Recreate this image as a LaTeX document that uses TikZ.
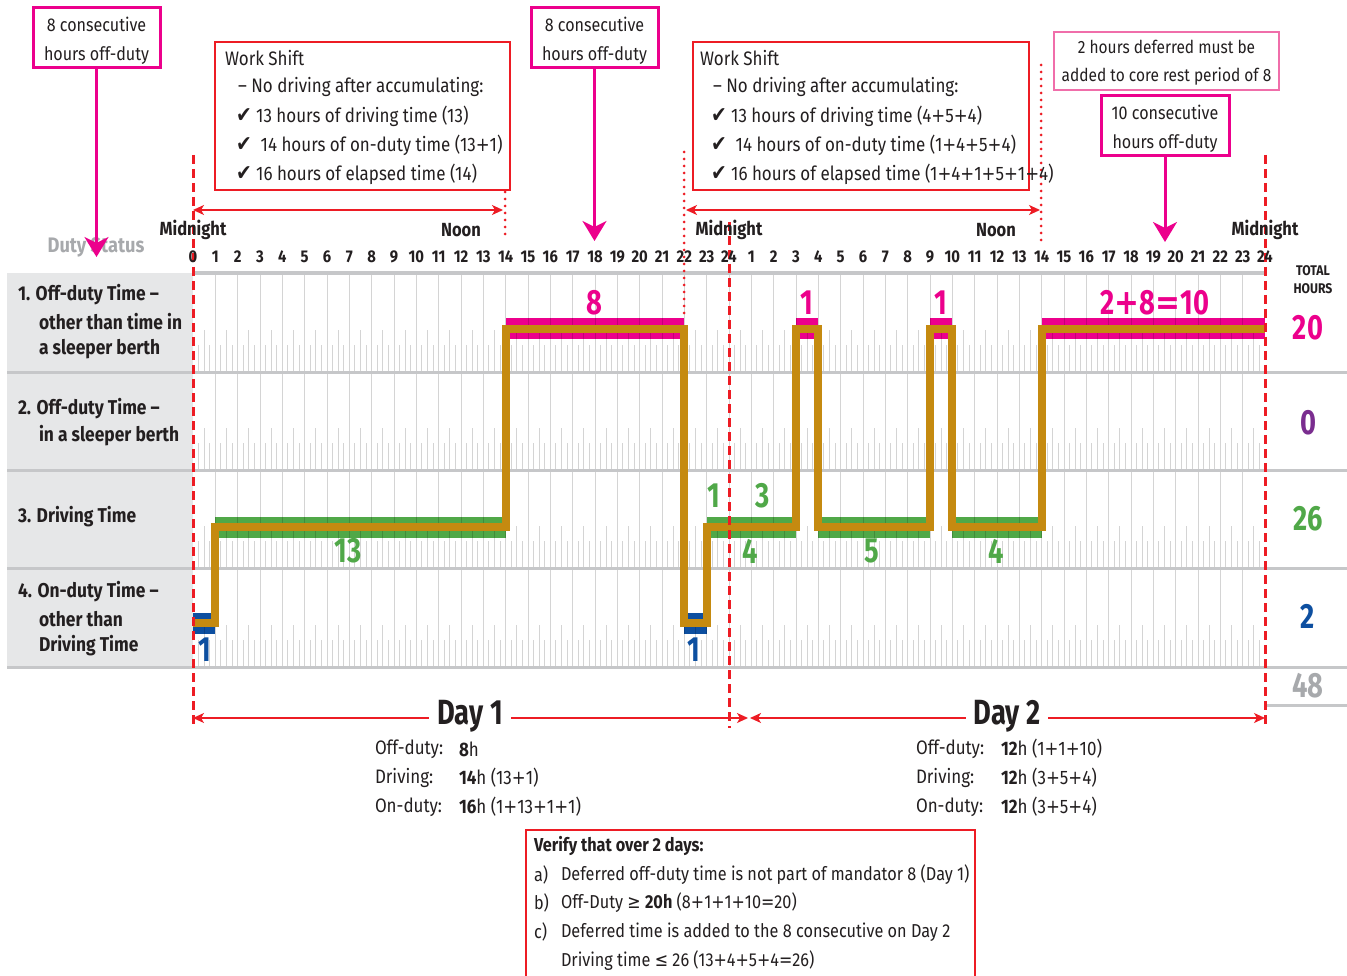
\documentclass[tikz,border=0pt]{standalone}
\usepackage{fontspec}
\setmainfont{Fira Sans}[FakeStretch=0.87]
\newfontfamily\narrowf{Fira Sans}[FakeStretch=0.78]
\newfontfamily\djv{DejaVu Sans}[FakeStretch=0.85]
\usetikzlibrary{arrows.meta}
\definecolor{ink}{HTML}{231F20}
\definecolor{redc}{HTML}{ED1C24}
\definecolor{pinkc}{HTML}{EC008C}
\definecolor{lpink}{HTML}{F06EAA}
\definecolor{greenc}{HTML}{50A848}
\definecolor{bluec}{HTML}{0D4FA0}
\definecolor{goldc}{HTML}{C58A10}
\definecolor{purplec}{HTML}{7A2D8F}
\definecolor{grayt}{HTML}{A7A9AC}
\definecolor{panel}{HTML}{E6E7E8}
\definecolor{rulec}{HTML}{C6C7C9}
\newcommand\hx[1]{193+22.33333*(#1)}
\newcommand\ck{{\djv\fontsize{22}{22}\selectfont ✔}}
\newcommand\pl{{\djv +}}
\newcommand\eq{{\djv =}}
\begin{document}
\begin{tikzpicture}[x=1pt,y=-1pt,
 every node/.style={inner sep=0pt,outer sep=0pt,text=ink},
 hr/.style={font=\bfseries\fontsize{17}{17}\selectfont},
 mid/.style={font=\bfseries\fontsize{19}{19}\selectfont},
 lbl/.style={anchor=west,font=\bfseries\fontsize{20}{20}\selectfont},
 ws/.style={anchor=west,font=\fontsize{19.5}{19.5}\selectfont},
 big/.style={font=\narrowf\bfseries\fontsize{35}{35}\selectfont},
 bt/.style={anchor=west,font=\fontsize{19.5}{19.5}\selectfont},
 vt/.style={anchor=west,font=\fontsize{18.7}{18.7}\selectfont},
 dayt/.style={fill=white,inner xsep=8pt,inner ysep=2pt,font=\narrowf\bfseries\fontsize{35}{35}\selectfont},
 cbox/.style={draw=pinkc,line width=3pt},
 ctext/.style={align=center,font=\fontsize{18.5}{29}\selectfont},
 wsbox/.style={draw=redc,line width=1.2pt,anchor=north west},
 parr/.style={draw=pinkc,line width=3pt,-{Stealth[length=20pt,width=24pt,inset=6pt]}},
 rarr/.style={draw=redc,line width=1.5pt,{Stealth[length=11pt,width=10pt,inset=3pt]}-{Stealth[length=11pt,width=10pt,inset=3pt]}},
 rdash/.style={draw=redc,line width=3pt,dash pattern=on 9pt off 5pt},
 rdot/.style={draw=redc,line width=3pt,line cap=round,dash pattern=on 0pt off 7pt},
 goldl/.style={draw=goldc,line width=8pt,line join=miter},
 gridl/.style={draw=black,opacity=0.17,line width=1pt},
 rowrule/.style={draw=rulec,line width=3pt}
]
\useasboundingbox (0,0) rectangle (1347,976);
\fill[white] (0,0) rectangle (1347,976);

% left panel
\fill[panel] (7,273) rectangle (193,667);

% bands
\fill[pinkc] ({\hx{14}},318.5) rectangle ({\hx{22}},339.5);
\fill[pinkc] ({\hx{27}},318.5) rectangle ({\hx{28}},339.5);
\fill[pinkc] ({\hx{33}},318.5) rectangle ({\hx{34}},339.5);
\fill[pinkc] ({\hx{38}},318.5) rectangle ({\hx{48}},339.5);
\fill[greenc] ({\hx{1}},516.5) rectangle ({\hx{14}},537.5);
\fill[greenc] ({\hx{23}},516.5) rectangle ({\hx{27}},537.5);
\fill[greenc] ({\hx{28}},516.5) rectangle ({\hx{33}},537.5);
\fill[greenc] ({\hx{34}},516.5) rectangle ({\hx{38}},537.5);
\fill[bluec] ({\hx{0}},612.5) rectangle ({\hx{1}},633.5);
\fill[bluec] ({\hx{22}},612.5) rectangle ({\hx{23}},633.5);

% grid
\foreach \h in {1,...,47} \draw[gridl] ({\hx{\h}},273) -- ({\hx{\h}},667);
\foreach \r in {372,470,568,667} {
  \foreach \h in {0,...,47} {
    \draw[gridl] ({\hx{\h+0.25}},\r) -- ++(0,-27);
    \draw[gridl] ({\hx{\h+0.5}},\r) -- ++(0,-42);
    \draw[gridl] ({\hx{\h+0.75}},\r) -- ++(0,-27);
  }
}
\draw[rowrule,line width=4pt] (193,273) -- (1265,273);
\foreach \r in {372,470,568,667} \draw[rowrule] (7,\r) -- (1347,\r);
\draw[rowrule] (1265,705) -- (1347,705);

% gold status line
\draw[goldl] (193,623) -- ({\hx{1}},623) -- ({\hx{1}},527) -- ({\hx{14}},527)
  -- ({\hx{14}},329) -- ({\hx{22}},329) -- ({\hx{22}},623) -- ({\hx{23}},623)
  -- ({\hx{23}},527) -- ({\hx{27}},527) -- ({\hx{27}},329) -- ({\hx{28}},329)
  -- ({\hx{28}},527) -- ({\hx{33}},527) -- ({\hx{33}},329) -- ({\hx{34}},329)
  -- ({\hx{34}},527) -- ({\hx{38}},527) -- ({\hx{38}},329) -- (1265,329);

% red dashed / dotted guides
\draw[rdash] (193,155) -- (193,728);
\draw[rdash] (729,222) -- (729,728);
\draw[rdash] (1265,155) -- (1265,728);
\draw[rdot] (505,192) -- (505,240);
\draw[rdot] (684,152) -- (684,318);
\draw[rdot] (1041,65) -- (1041,245);

% work shift span arrows
\coordinate (wa1) at (193,210); \coordinate (wb1) at (503,210);
\coordinate (wa2) at (686,210); \coordinate (wb2) at (1040,210);
\draw[rarr] (wa1) -- (wb1);
\draw[rarr] (wa2) -- (wb2);

% header
\node[font=\bfseries\fontsize{21}{21}\selectfont,text=grayt] (ds) at (96,247) {Duty Status};
\node[mid] (mn1) at (193,230) {Midnight};
\node[mid] (no1) at (461,230) {Noon};
\node[mid] (mn2) at (729,230) {Midnight};
\node[mid] (no2) at (996,230) {Noon};
\node[mid] (mn3) at (1265,230) {Midnight};
\foreach \h in {0,...,24} \node[hr] (ha\h) at ({\hx{\h}},257) {\h};
\foreach \h in {1,...,24} \node[hr] (hb\h) at ({\hx{\h+24}},257) {\h};
\node[align=center,font=\bfseries\fontsize{14}{18}\selectfont] (th) at (1313,280) {TOTAL\\HOURS};

% row labels
\node[lbl] (r1a) at (18,295) {1. Off-duty Time –};
\node[lbl] (r1b) at (39,322) {other than time in};
\node[lbl] (r1c) at (39,349) {a sleeper berth};
\node[lbl] (r2a) at (18,409) {2. Off-duty Time –};
\node[lbl] (r2b) at (39,436) {in a sleeper berth};
\node[lbl] (r3a) at (18,517) {3. Driving Time};
\node[lbl] (r4a) at (18,592) {4. On-duty Time –};
\node[lbl] (r4b) at (39,619) {other than};
\node[lbl] (r4c) at (39,646) {Driving Time};

% segment numbers
\node[big,text=pinkc] (p8) at (594,303) {8};
\node[big,text=pinkc] (p1a) at (807,303) {1};
\node[big,text=pinkc] (p1b) at (941,303) {1};
\node[big,text=pinkc] (p10) at (1155,303) {2{\djv\bfseries +}8{\djv\bfseries =}10};
\node[big,text=greenc] (g13) at (348,551) {13};
\node[big,text=greenc] (g1) at (714,496) {1};
\node[big,text=greenc] (g3) at (763,496) {3};
\node[big,text=greenc] (g4a) at (750,551) {4};
\node[big,text=greenc] (g5) at (872,551) {5};
\node[big,text=greenc] (g4b) at (996,551) {4};
\node[big,text=bluec] (b1a) at (205,650) {1};
\node[big,text=bluec] (b1b) at (694,650) {1};

% totals
\node[big,text=pinkc] (t20) at (1308,328) {20};
\node[big,text=purplec] (t0) at (1308,423) {0};
\node[big,text=greenc] (t26) at (1308,519) {26};
\node[big,text=bluec] (t2) at (1308,616) {2};
\node[big,text=grayt] (t48) at (1308,686) {48};

% callouts
\node[cbox,minimum width=127,minimum height=60] (c1) at (96.5,38) {};
\node[ctext] (c1t) at (96.5,41) {8 consecutive\\hours off-duty};
\node[cbox,minimum width=127,minimum height=60] (c2) at (594.5,38) {};
\node[ctext] (c2t) at (594.5,41) {8 consecutive\\hours off-duty};
\node[cbox,draw=lpink,line width=1.5pt,minimum width=225,minimum height=58] (c3) at (1166.5,61) {};
\node[ctext,font=\fontsize{17.8}{28}\selectfont] (c3t) at (1166.5,63) {2 hours deferred must be\\added to core rest period of 8};
\node[cbox,minimum width=128,minimum height=60] (c4) at (1165,126) {};
\node[ctext] (c4t) at (1165,129) {10 consecutive\\hours off-duty};
\coordinate (e1) at (96.5,257);
\coordinate (e2) at (594.5,241);
\coordinate (e4) at (1165,242);
\draw[parr] (c1.south) -- (e1);
\draw[parr] (c2.south) -- (e2);
\draw[parr] (c4.south) -- (e4);

% work shift boxes
\node[wsbox,minimum width=295,minimum height=148] (ws1) at (215,42) {};
\node[ws] (w1a) at (225,58) {Work Shift};
\node[ws] (w1b) at (238,87) {– No driving after accumulating:};
\node[ws] (w1c) at (236,116) {\ck\ 13 hours of driving time (13)};
\node[ws] (w1d) at (236,145) {\ck\ \ 14 hours of on-duty time (13\pl1)};
\node[ws] (w1e) at (236,174) {\ck\ 16 hours of elapsed time (14)};
\node[wsbox,minimum width=336,minimum height=148] (ws2) at (693,42) {};
\node[ws] (w2a) at (700,58) {Work Shift};
\node[ws] (w2b) at (713,87) {– No driving after accumulating:};
\node[ws] (w2c) at (711,116) {\ck\ 13 hours of driving time (4\pl5\pl4)};
\node[ws] (w2d) at (711,145) {\ck\ \ 14 hours of on-duty time (1\pl4\pl5\pl4)};
\node[ws] (w2e) at (711,174) {\ck\ 16 hours of elapsed time (1\pl4\pl1\pl5\pl1\pl4)};

% day arrows
\coordinate (da1) at (193,718); \coordinate (db1) at (748,718);
\coordinate (da2) at (750,718); \coordinate (db2) at (1265,718);
\draw[rarr] (da1) -- (db1);
\draw[rarr] (da2) -- (db2);
\node[dayt] (day1) at (470,716) {Day 1};
\node[dayt] (day2) at (1007,716) {Day 2};

% day summaries
\node[bt] (s1a) at (375,749) {Off-duty:};
\node[bt] (s1b) at (459,749) {\textbf{8}h};
\node[bt] (s1c) at (375,778) {Driving:};
\node[bt] (s1d) at (459,778) {\textbf{14}h (13\pl1)};
\node[bt] (s1e) at (375,807) {On-duty:};
\node[bt] (s1f) at (459,807) {\textbf{16}h (1\pl13\pl1\pl1)};
\node[bt] (s2a) at (916,749) {Off-duty:};
\node[bt] (s2b) at (1001,749) {\textbf{12}h (1\pl1\pl10)};
\node[bt] (s2c) at (916,778) {Driving:};
\node[bt] (s2d) at (1001,778) {\textbf{12}h (3\pl5\pl4)};
\node[bt] (s2e) at (916,807) {On-duty:};
\node[bt] (s2f) at (1001,807) {\textbf{12}h (3\pl5\pl4)};

% verify box
\node[wsbox,minimum width=449,minimum height=160] (vb) at (526,830) {};
\node[vt,font=\bfseries\fontsize{18.7}{18.7}\selectfont] (v0) at (534,846) {Verify that over 2 days:};
\node[vt] (va) at (534,875) {a)};
\node[vt] (vat) at (561,875) {Deferred off-duty time is not part of mandator 8 (Day 1)};
\node[vt] (vb1) at (534,903) {b)};
\node[vt] (vbt) at (561,903) {Off-Duty {\djv ≥} \textbf{20h} (8\pl1\pl1\pl10\eq20)};
\node[vt] (vc) at (534,932) {c)};
\node[vt] (vct) at (561,932) {Deferred time is added to the 8 consecutive on Day 2};
\node[vt] (vdt) at (561,961) {Driving time {\djv ≤} 26 (13\pl4\pl5\pl4\eq26)};
\end{tikzpicture}
\end{document}
